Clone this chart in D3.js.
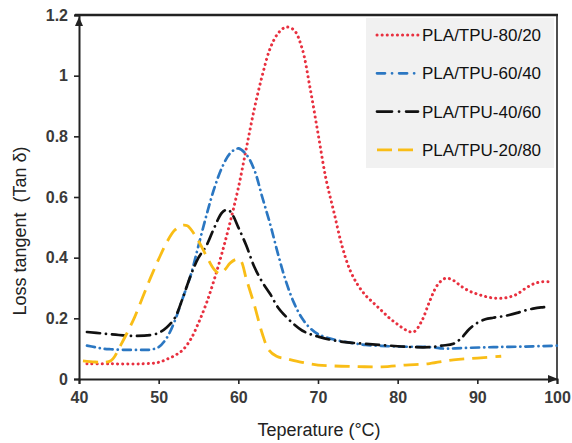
<!DOCTYPE html>
<html>
<head>
<meta charset="utf-8">
<script src="https://cdn.jsdelivr.net/npm/d3@7"></script>
<style>
  body { margin: 0; background: #fff; }
  svg { display: block; font-family: "Liberation Sans", Arial, sans-serif; }
</style>
</head>
<body>
<div id="chart"></div>
<script>
// valores: [temperatura, tan δ]
const pla80 = [[41,0.05],[44,0.05],[48,0.05],[50,0.055],[51,0.065],[52,0.077],[53,0.095],[54,0.13],[55,0.185],
  [56,0.25],[57,0.33],[58,0.42],[59,0.52],[60,0.63],[61,0.76],[62,0.89],[63,1.0],[64,1.09],[65,1.14],[66,1.16],
  [67,1.15],[68,1.09],[69,0.96],[70,0.81],[71,0.66],[72,0.55],[73,0.44],[74,0.36],[75,0.31],[76,0.275],[77,0.25],
  [78,0.225],[79,0.2],[80,0.18],[81,0.162],[82,0.155],[83,0.19],[84,0.255],[85,0.31],[86,0.332],[87,0.325],
  [88,0.305],[89,0.29],[90,0.28],[91,0.272],[92,0.267],[93,0.266],[94,0.27],[95,0.28],[96,0.298],[97,0.313],
  [98,0.32],[99.5,0.32]];
const pla60 = [[41,0.11],[42,0.105],[43,0.1],[44,0.098],[46,0.096],[48,0.096],[49,0.097],[50,0.105],[51,0.135],
  [52,0.19],[53,0.265],[54,0.34],[55,0.44],[56,0.54],[57,0.63],[58,0.7],[59,0.745],[60,0.76],[61,0.74],[62,0.69],
  [63,0.6],[64,0.51],[65,0.41],[66,0.32],[67,0.25],[68,0.2],[69,0.168],[70,0.148],[72,0.13],[74,0.12],[76,0.112],
  [80,0.107],[84,0.105],[86,0.1],[88,0.102],[92,0.105],[96,0.107],[100,0.11]];
const pla40 = [[41,0.155],[43,0.15],[45,0.145],[47,0.142],[49,0.145],[50,0.152],[51,0.17],[52,0.2],[53,0.265],
  [54,0.34],[55,0.4],[56,0.44],[57,0.5],[58,0.55],[58.7,0.558],[59.3,0.54],[60,0.5],[61,0.44],[62,0.37],[63,0.32],
  [64,0.28],[65,0.235],[66,0.205],[67,0.18],[68,0.16],[69,0.148],[70,0.14],[72,0.127],[74,0.12],[76,0.116],
  [78,0.112],[80,0.108],[82,0.105],[84,0.105],[85.5,0.11],[87,0.116],[88,0.135],[89,0.165],[90,0.185],[91,0.197],
  [92,0.202],[93,0.206],[94,0.211],[95,0.218],[96,0.226],[97,0.232],[98,0.236],[99,0.238]];
const pla20 = [[40.5,0.06],[42,0.056],[43,0.055],[44,0.06],[44.5,0.075],[45,0.1],[46,0.15],[47,0.205],[48,0.27],
  [49,0.335],[50,0.395],[51,0.45],[52,0.49],[53,0.507],[53.6,0.505],[54,0.495],[55,0.455],[56,0.405],[57,0.36],
  [57.7,0.347],[58.3,0.36],[59,0.383],[59.8,0.395],[60.3,0.39],[61,0.33],[62,0.245],[63,0.15],[63.8,0.097],
  [64.8,0.075],[66,0.067],[68,0.055],[70,0.046],[72,0.043],[75,0.041],[78,0.04],[81,0.046],[84,0.051],[87,0.063],
  [90,0.069],[93,0.075]];

const seriesNames = ["PLA/TPU-80/20", "PLA/TPU-60/40", "PLA/TPU-40/60", "PLA/TPU-20/80"];
const xTicks = [40, 50, 60, 70, 80, 90, 100];
const yTicks = [0, 0.2, 0.4, 0.6, 0.8, 1, 1.2];

const series = [
  { name: seriesNames[0], data: pla80, color: "#e8303f", dash: "0.1 5", cap: "round", width: 3 },
  { name: seriesNames[1], data: pla60, color: "#2b77c2", dash: "8 5 0.1 5", cap: "round", width: 2.7 },
  { name: seriesNames[2], data: pla40, color: "#111111", dash: "13 6 0.1 6", cap: "round", width: 2.7 },
  { name: seriesNames[3], data: pla20, color: "#f9bd16", dash: "15 8", cap: "butt", width: 2.8 }
];

const width = 572, height = 443;
const margin = { left: 79, right: 15, top: 15, bottom: 64 };

const svg = d3.select("#chart").append("svg")
  .attr("width", width)
  .attr("height", height);

const x = d3.scaleLinear().domain([40, 100]).range([margin.left, width - margin.right]);
const y = d3.scaleLinear().domain([0, 1.2]).range([height - margin.bottom, margin.top]);

// marco superior y derecho
svg.append("line")
  .attr("x1", margin.left - 4).attr("x2", x(100) + 1)
  .attr("y1", y(1.2)).attr("y2", y(1.2))
  .attr("stroke", "#222").attr("stroke-width", 2.4);
svg.append("line")
  .attr("x1", x(100)).attr("x2", x(100))
  .attr("y1", y(1.2)).attr("y2", y(0))
  .attr("stroke", "#222").attr("stroke-width", 1.6);

// ejes
const xAxis = svg.append("g")
  .attr("transform", `translate(0,${y(0)})`)
  .call(d3.axisBottom(x).tickValues(xTicks).tickSize(5).tickPadding(8).tickFormat(d3.format("d")));
const yAxis = svg.append("g")
  .attr("transform", `translate(${margin.left},0)`)
  .call(d3.axisLeft(y).tickValues(yTicks).tickSize(5).tickPadding(6).tickFormat(d => d === 0 ? "0" : d3.format("~g")(d)));

[xAxis, yAxis].forEach(g => {
  g.select(".domain").attr("stroke", "#222").attr("stroke-width", 2);
  g.selectAll(".tick line").attr("stroke", "#222").attr("stroke-width", 1.6);
  g.selectAll(".tick text")
    .attr("fill", "#3a3a3a")
    .style("font-size", "16px")
    .style("font-weight", "bold")
    .style("font-family", "'Liberation Sans', Arial, sans-serif");
});

// flechas
svg.append("path")
  .attr("d", `M${margin.left},${y(1.2) + 2} l-4,9 l8,0 z`)
  .attr("fill", "#222");
svg.append("path")
  .attr("d", `M${x(100) + 1},${y(0)} l-10,-4 l0,8 z`)
  .attr("fill", "#222");

// curvas
const line = d3.line()
  .x(d => x(d[0]))
  .y(d => y(d[1]))
  .curve(d3.curveCatmullRom.alpha(0.5));

svg.append("g").selectAll("path")
  .data(series)
  .enter().append("path")
  .attr("d", d => line(d.data))
  .attr("fill", "none")
  .attr("stroke", d => d.color)
  .attr("stroke-width", d => d.width)
  .attr("stroke-dasharray", d => d.dash)
  .attr("stroke-linecap", d => d.cap);

// leyenda
const legend = svg.append("g").attr("transform", "translate(366,18)");
legend.append("rect")
  .attr("width", 188).attr("height", 150)
  .attr("fill", "#f1f1f1");

const legendItem = legend.selectAll(".item")
  .data(series)
  .enter().append("g")
  .attr("class", "item")
  .attr("transform", (d, i) => `translate(0,${17 + i * 38.3})`);

legendItem.append("line")
  .attr("x1", 11).attr("x2", 52)
  .attr("y1", 0).attr("y2", 0)
  .attr("stroke", d => d.color)
  .attr("stroke-width", d => d.width)
  .attr("stroke-dasharray", (d, i) => ["0.1 5", "8 7 0.1 7", "15 7 0.1 7", "15 6"][i])
  .attr("stroke-linecap", d => d.cap);

legendItem.append("text")
  .attr("x", 56).attr("y", 6)
  .attr("fill", "#111")
  .style("font-size", "17px")
  .text(d => d.name);

// títulos de ejes
svg.append("text")
  .attr("x", (x(40) + x(100)) / 2 + 1)
  .attr("y", 436)
  .attr("text-anchor", "middle")
  .attr("fill", "#222")
  .style("font-size", "18px")
  .text("Teperature (°C)");

svg.append("text")
  .attr("transform", "translate(26,231) rotate(-90)")
  .attr("text-anchor", "middle")
  .attr("fill", "#222")
  .style("font-size", "18px")
  .style("white-space", "pre")
  .text("Loss tangent  (Tan δ)");
</script>
</body>
</html>
